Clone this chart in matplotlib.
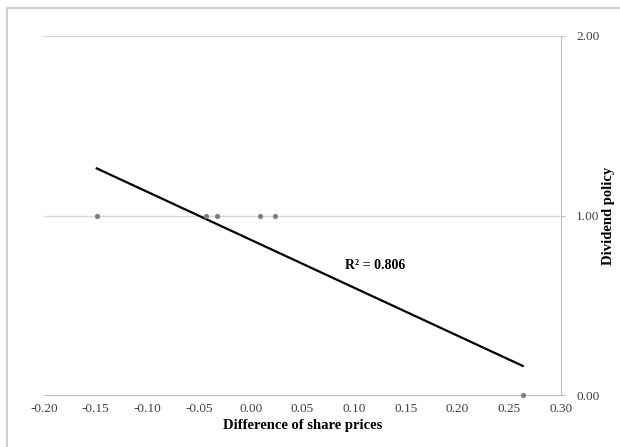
import numpy as np
import matplotlib.pyplot as plt
from matplotlib.patches import Rectangle

# values
share_diff = [-0.149, -0.043, -0.033, 0.009, 0.023, 0.263]
dividend = [1, 1, 1, 1, 1, 0]
x_ticks = [-0.20, -0.15, -0.10, -0.05, 0.00, 0.05, 0.10, 0.15, 0.20, 0.25, 0.30]
y_ticks = [0.0, 1.0, 2.0]
r2_text = "R² = 0.806"

plt.rcParams["font.family"] = ["Liberation Serif", "DejaVu Serif"]

fig = plt.figure(figsize=(6.2, 4.47), dpi=100)
ax = fig.add_axes([44 / 620, 52 / 447, (561 - 44) / 620, (395 - 36) / 447])

# light frame around the chart (right and bottom edges run off the image)
fig.patches.append(Rectangle((7 / 620, -0.05), 1.0, 439 / 447 + 0.05,
                             transform=fig.transFigure, fill=False,
                             edgecolor="#d0d0d0", linewidth=1.5))

ax.scatter(share_diff, dividend, s=14, color="#7f7f7f", zorder=5, linewidths=0, clip_on=False)

# linear trendline over the data range
slope, icpt = np.polyfit(share_diff, dividend, 1)
xs = np.array([min(share_diff), max(share_diff)])
ax.plot(xs, slope * xs + icpt, color="black", linewidth=1.6, zorder=4)

ax.text(0.120, 0.72, r2_text, ha="center", va="center", fontsize=10, fontweight="bold")

ax.set_xlim(-0.20, 0.30)
ax.set_ylim(0, 2)
ax.set_xticks(x_ticks)
ax.set_xticklabels([f"{v:.2f}" for v in x_ticks])
ax.set_yticks(y_ticks)
ax.set_yticklabels([f"{v:.2f}" for v in y_ticks])
ax.yaxis.tick_right()
ax.yaxis.set_label_position("right")

for y in y_ticks[1:]:
    ax.axhline(y, color="#d9d9d9", linewidth=1, zorder=1)

for s in ["top", "left"]:
    ax.spines[s].set_visible(False)
ax.spines["right"].set_color("#bfbfbf")
ax.spines["bottom"].set_color("#bfbfbf")
ax.tick_params(axis="x", length=0, pad=6, labelsize=9.5, labelcolor="#404040")
ax.tick_params(axis="y", length=3, color="#bfbfbf", pad=8, labelsize=9.5, labelcolor="#404040")

ax.set_xlabel("Difference of share prices", fontsize=10.5, fontweight="bold", labelpad=3)
ax.set_ylabel("Dividend policy", fontsize=10.5, fontweight="bold", labelpad=2)

fig.savefig("out.png", dpi=100)
